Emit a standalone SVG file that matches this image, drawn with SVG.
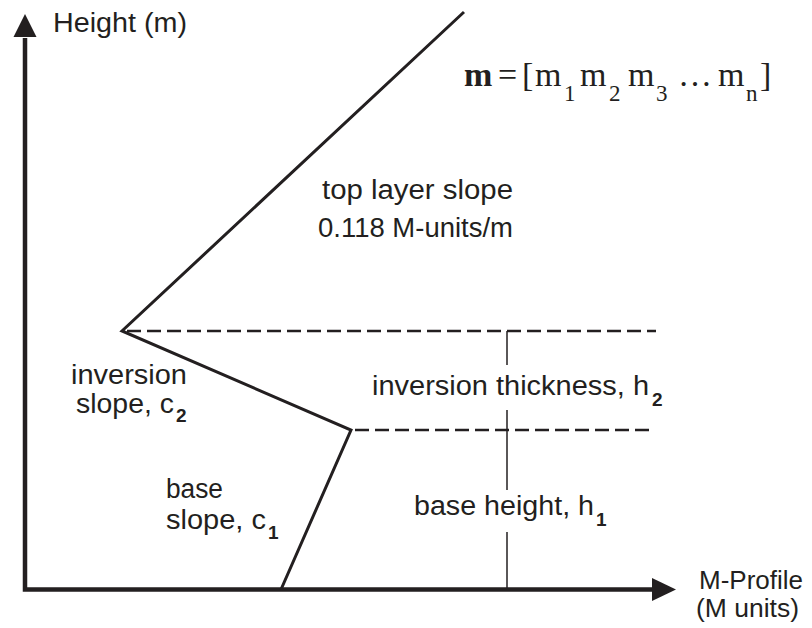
<svg xmlns="http://www.w3.org/2000/svg" width="812" height="628" viewBox="0 0 812 628">
<style>
.t{font-family:"Liberation Sans",Arial,Helvetica,sans-serif;font-size:27px;fill:#231f20}
.s{font-family:"Liberation Sans",Arial,Helvetica,sans-serif;font-size:19px;font-weight:bold;fill:#231f20}
.f{font-family:"Liberation Serif","Times New Roman",serif;font-size:34px;fill:#231f20}
.fs{font-size:23px}
.axis{stroke:#231f20;stroke-width:4.5;fill:none}
.prof{stroke:#231f20;stroke-width:3;fill:none;stroke-linejoin:miter}
.dash{stroke:#231f20;stroke-width:2.3;stroke-dasharray:14 6;fill:none}
.thin{stroke:#231f20;stroke-width:1.5;fill:none}
.head{fill:#231f20}
</style>
<rect width="812" height="628" fill="#ffffff"/>
<g id="connectors">
<g id="axes">
<path class="axis" d="M25,38 V589.5 H655"/>
<polygon class="head" points="25,14 13.5,37 36.5,37"/>
<polygon class="head" points="676,589.5 652,578 652,601"/>
</g>
<path id="profile" class="prof" d="M464,12 L122,331 L351,430 L281,589.5"/>
<line id="inversion-top" class="dash" x1="127" y1="331" x2="656" y2="331"/>
<line id="inversion-base" class="dash" x1="355" y1="430" x2="652" y2="430"/>
<g id="height-markers">
<line class="thin" x1="507" y1="331" x2="507" y2="365"/>
<line class="thin" x1="507" y1="410" x2="507" y2="490"/>
<line class="thin" x1="507" y1="532" x2="507" y2="589"/>
</g>
</g>
<g id="y-label"><text class="t" x="53" y="32" textLength="134" lengthAdjust="spacingAndGlyphs">Height (m)</text></g>
<g id="formula">
<text class="f" y="86"><tspan x="464" font-weight="bold">m</tspan><tspan x="498">=</tspan><tspan x="522">[</tspan><tspan x="535">m</tspan><tspan class="fs" x="564" y="101">1</tspan><tspan x="580" y="86">m</tspan><tspan class="fs" x="609" y="101">2</tspan><tspan x="628" y="86">m</tspan><tspan class="fs" x="656" y="101">3</tspan><tspan x="678" y="86">…</tspan><tspan x="718">m</tspan><tspan class="fs" x="746" y="101">n</tspan><tspan x="760" y="86">]</tspan></text>
</g>
<g id="top-layer-label">
<text class="t" x="322" y="199" textLength="191" lengthAdjust="spacingAndGlyphs">top layer slope</text>
<text class="t" x="318" y="237" textLength="195" lengthAdjust="spacingAndGlyphs">0.118 M-units/m</text>
</g>
<g id="inversion-slope-label">
<text class="t" x="71" y="384" textLength="116" lengthAdjust="spacingAndGlyphs">inversion</text>
<text class="t" x="76" y="413" textLength="98" lengthAdjust="spacingAndGlyphs">slope, c</text>
<text class="s" x="176" y="422">2</text>
</g>
<g id="base-slope-label">
<text class="t" x="166" y="498" textLength="57" lengthAdjust="spacingAndGlyphs">base</text>
<text class="t" x="166" y="529" textLength="100" lengthAdjust="spacingAndGlyphs">slope, c</text>
<text class="s" x="268" y="539">1</text>
</g>
<g id="inversion-thickness-label">
<text class="t" x="372" y="395" textLength="277" lengthAdjust="spacingAndGlyphs">inversion thickness, h</text>
<text class="s" x="652" y="406">2</text>
</g>
<g id="base-height-label">
<text class="t" x="414" y="515" textLength="180" lengthAdjust="spacingAndGlyphs">base height, h</text>
<text class="s" x="596" y="526">1</text>
</g>
<g id="x-label">
<text class="t" x="699" y="589" textLength="104" lengthAdjust="spacingAndGlyphs" style="font-size:26px">M-Profile</text>
<text class="t" x="696" y="617" textLength="103" lengthAdjust="spacingAndGlyphs" style="font-size:26px">(M units)</text>
</g>
</svg>
